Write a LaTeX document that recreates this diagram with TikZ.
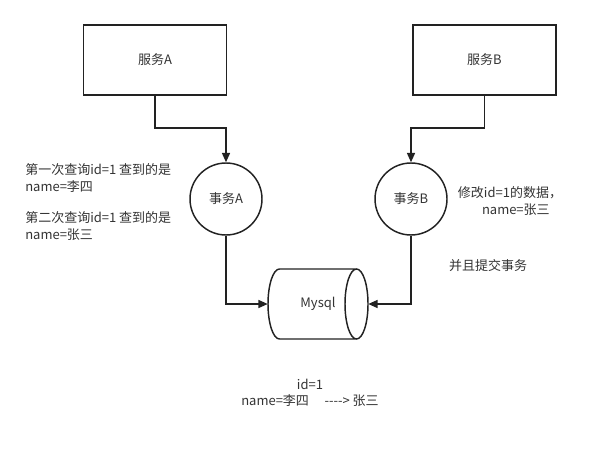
\documentclass[tikz,border=0pt]{standalone}
\usepackage{fontspec}
\setmainfont{Noto Sans CJK SC}
\usetikzlibrary{arrows.meta}
\definecolor{txt}{HTML}{333333}
\definecolor{ln}{HTML}{222222}
\begin{document}
\begin{tikzpicture}[x=0.75pt,y=-0.75pt,
  every node/.style={font=\fontsize{9.75}{12.5}\selectfont, text=txt},
  svc/.style={draw=ln, line width=1.1pt, rectangle, minimum width=107.25pt, minimum height=52.5pt},
  txn/.style={draw=ln, line width=1.1pt, circle, minimum size=54pt, inner sep=0pt},
  arr/.style={draw=ln, line width=1.1pt, -{Triangle[length=7pt,width=6pt]}},
  lbl/.style={inner sep=0pt}
]
\useasboundingbox (0,0) rectangle (598,466);
\node[svc] (boxA) at (155,60) {服务A};
\node[svc] (boxB) at (484.5,60) {服务B};
\node[txn] (cA) at (226,199) {事务A};
\node[txn] (cB) at (411,199) {事务B};
\node[minimum width=75pt, minimum height=52.5pt, inner sep=0pt] (db) at (318,304) {Mysql};
% cylinder
\draw[draw=ln, line width=1.1pt]
  (279.5,269) -- (356.5,269)
  (279.5,339) -- (356.5,339)
  (279.5,269) arc[start angle=270, end angle=90, x radius=11.5, y radius=35]
  (356.5,304) ellipse[x radius=11.5, y radius=35];
\coordinate (jA) at (155,128);
\coordinate (jB) at (484.5,128);
\draw[arr] (boxA.south) -- (jA) -| (cA.north);
\draw[arr] (boxB.south) -- (jB) -| (cB.north);
\draw[arr] (cA.south) |- (db.west);
\draw[arr] (cB.south) |- (db.east);
\node[lbl, anchor=west, align=left] (t1) at (25,178) {第一次查询id=1 查到的是\\name=李四};
\node[lbl, anchor=west, align=left] (t2) at (25,226) {第二次查询id=1 查到的是\\name=张三};
\node[lbl, align=center] (t3) at (510,201) {修改id=1的数据，\\\hspace{0.9em}name=张三};
\node[lbl] (t4) at (488,266) {并且提交事务};
\node[lbl, align=center] (t5) at (310,393) {id=1\\name=李四\hspace{1.2em}-{}-{}-{}-> 张三};
\end{tikzpicture}
\end{document}
